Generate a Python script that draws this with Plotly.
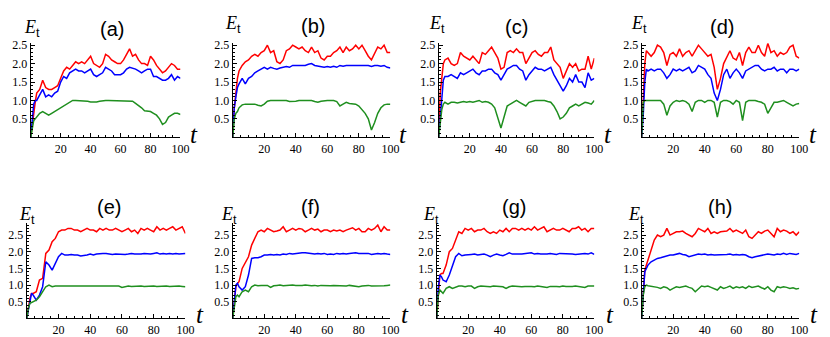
import plotly.graph_objects as go

# browser window size; the page body adds an 8 px margin, so the figure is
# made 8 px smaller and every pixel position below is shifted by that margin
W, H = 830, 337
OFF = 8
FW, FH = W - OFF, H - OFF

# time grid (fine at start, then every 2 steps)
T = [0, 1, 2, 3, 4] + list(range(6, 101, 2))

PANELS = ["a", "b", "c", "d", "e", "f", "g", "h"]

red_a = [0, 0.35, 0.6, 0.95, 1.2,
         1.3, 1.55, 1.35, 1.3, 1.3, 1.35, 1.4, 1.6, 1.8, 1.9,
         1.85, 1.95, 2.05, 2.0, 2.05, 2.0, 2.1, 2.2, 2.0, 1.95,
         1.9, 2.0, 2.25, 2.2, 2.1, 2.05, 2.0, 2.0, 2.1, 2.25,
         2.4, 2.2, 2.25, 2.1, 2.0, 2.0, 1.95, 2.2, 2.1, 1.95,
         1.85, 1.75, 1.8, 1.9, 2.0, 1.95, 1.85, 1.85]
blue_a = [0, 0.5, 0.9, 1.0, 1.0,
          1.15, 1.3, 1.1, 1.15, 1.1, 1.2, 1.25, 1.5, 1.65, 1.6,
          1.75, 1.8, 1.85, 1.8, 1.8, 1.75, 1.8, 1.85, 1.7, 1.65,
          1.7, 1.75, 1.9, 1.85, 1.8, 1.7, 1.7, 1.7, 1.75, 1.85,
          1.9, 1.88, 1.85, 1.8, 1.75, 1.8, 1.85, 1.85, 1.65, 1.65,
          1.6, 1.55, 1.55, 1.6, 1.7, 1.55, 1.65, 1.6]
green_a = [0, 0.3, 0.45, 0.5, 0.55,
           0.65, 0.7, 0.65, 0.6, 0.65, 0.7, 0.75, 0.82, 0.87, 0.92,
           0.97, 1.0, 1.0, 1.0, 1.0, 1.0, 0.98, 0.96, 0.95, 0.96,
           0.98, 1.0, 1.0, 1.0, 1.0, 1.0, 1.0, 1.0, 1.0, 1.0,
           1.0, 0.98, 0.92, 0.87, 0.8, 0.72, 0.7, 0.7, 0.65, 0.6,
           0.5, 0.35, 0.4, 0.55, 0.6, 0.65, 0.65, 0.62]

red_b = [0, 0.8, 1.2, 1.6, 1.8,
         1.95, 2.05, 2.1, 2.2, 2.25, 2.2, 2.3, 2.35, 2.5, 2.3,
         2.35, 2.05, 2.0, 2.1, 2.35, 2.4, 2.5, 2.45, 2.4, 2.45,
         2.35, 2.3, 2.45, 2.3, 2.35, 2.15, 2.1, 2.2, 2.2, 2.3,
         2.35, 2.45, 2.3, 2.45, 2.35, 2.4, 2.5, 2.4, 2.5, 2.35,
         2.2, 2.1, 2.3, 2.45, 2.4, 2.5, 2.3, 2.3]
blue_b = [0, 0.8, 1.1, 1.35, 1.45,
          1.6, 1.45, 1.6, 1.65, 1.75, 1.8, 1.85, 1.9, 1.85, 1.9,
          1.87, 1.85, 1.88, 1.9, 1.92, 1.9, 1.95, 1.95, 1.95, 1.97,
          1.95, 1.98, 2.0, 1.95, 1.93, 1.9, 1.9, 1.92, 1.9, 1.93,
          1.9, 1.95, 1.93, 1.95, 1.95, 1.97, 1.95, 1.97, 1.95, 1.97,
          1.95, 1.92, 1.95, 1.95, 1.93, 1.95, 1.9, 1.88]
green_b = [0, 0.5, 0.65, 0.7, 0.8,
           0.88, 0.9, 0.9, 0.92, 0.9, 0.87, 0.85, 0.9, 0.98, 1.0,
           1.0, 1.0, 1.0, 1.0, 1.0, 0.97, 0.97, 0.98, 1.0, 1.0,
           1.0, 1.0, 1.0, 0.97, 0.95, 0.98, 1.0, 1.0, 1.0, 1.0,
           0.97, 0.85, 0.9, 0.95, 0.92, 0.9, 0.9, 0.85, 0.75, 0.65,
           0.5, 0.2, 0.4, 0.65, 0.8, 0.88, 0.9, 0.9]

red_c = [0, 1.2, 1.6, 2.0, 2.1,
         2.15, 2.0, 1.95, 2.0, 2.3, 2.2, 2.15, 2.1, 2.2, 2.1,
         2.0, 2.3, 2.25, 2.35, 2.45, 2.3, 2.15, 1.85, 1.9, 2.3,
         2.35, 2.3, 2.4, 2.3, 2.3, 2.0, 2.15, 2.3, 2.35, 2.25,
         2.2, 2.3, 2.3, 2.45, 2.1, 2.0, 1.9, 1.6, 1.8, 2.0,
         1.9, 2.0, 1.8, 1.85, 1.85, 2.2, 1.85, 2.15]
blue_c = [0, 0.5, 1.0, 1.55, 1.65,
          1.65, 1.7, 1.65, 1.6, 1.75, 1.7, 1.75, 1.8, 1.85, 1.75,
          1.7, 1.8, 1.8, 1.85, 1.85, 1.75, 1.7, 1.55, 1.7, 1.85,
          1.9, 1.95, 1.95, 1.85, 1.8, 1.55, 1.7, 1.8, 1.9, 1.85,
          1.85, 1.8, 1.85, 1.9, 1.7, 1.55, 1.4, 1.25, 1.4, 1.6,
          1.5, 1.7, 1.5, 1.5, 1.35, 1.75, 1.55, 1.6]
green_c = [0, 0.4, 0.75, 0.9, 0.95,
           0.9, 0.95, 0.95, 0.93, 0.95, 0.97, 0.95, 0.97, 0.95, 0.97,
           1.0, 0.95, 0.97, 0.95, 0.9, 0.8, 0.55, 0.25, 0.55, 0.85,
           0.9, 0.95, 1.0, 0.95, 0.9, 0.85, 0.95, 0.98, 1.0, 1.0,
           1.0, 1.0, 0.97, 0.95, 0.85, 0.7, 0.5, 0.55, 0.65, 0.8,
           0.85, 0.9, 0.85, 0.9, 0.95, 0.93, 0.9, 1.0]

red_d = [0, 1.2, 2.0, 2.35, 2.3,
         2.2, 2.3, 2.5, 2.45, 2.3, 1.95, 2.25, 2.3, 2.2, 2.4,
         2.2, 2.3, 2.35, 2.2, 2.35, 2.5, 2.4, 2.3, 2.2, 2.25,
         1.9, 1.3, 1.6, 2.0, 2.2, 2.35, 2.15, 2.1, 2.3, 1.95,
         2.3, 2.45, 2.3, 2.3, 2.5, 2.3, 2.2, 2.55, 2.3, 2.35,
         2.2, 2.3, 2.25, 2.3, 2.45, 2.5, 2.2, 2.15]
blue_d = [0, 0.6, 1.5, 1.85, 1.8,
          1.85, 1.8, 1.85, 1.85, 1.75, 1.6, 1.7, 1.85, 1.8, 1.85,
          1.8, 1.85, 1.9, 1.75, 1.8, 1.95, 1.9, 1.85, 1.7, 1.6,
          1.2, 1.0, 1.3, 1.7, 1.85, 1.6, 1.75, 1.85, 1.75, 1.6,
          1.8, 1.85, 1.9, 1.95, 1.95, 1.85, 1.8, 1.85, 1.85, 1.9,
          1.8, 1.85, 1.85, 1.75, 1.85, 1.85, 1.8, 1.85]
green_d = [0, 0.95, 1.0, 1.0, 1.0,
           1.0, 1.0, 1.0, 1.0, 0.9, 0.6, 0.85, 0.95, 1.0, 0.97,
           1.0, 0.97, 0.9, 0.7, 0.95, 1.0, 1.0, 0.95, 1.0, 1.0,
           0.95, 0.55, 0.95, 1.0, 1.0, 0.97, 0.9, 1.0, 0.95, 0.45,
           0.95, 1.0, 1.0, 1.0, 0.97, 0.95, 0.9, 0.65, 0.8, 0.95,
           0.95, 0.97, 1.0, 0.95, 0.9, 0.85, 0.9, 0.92]

red_e = [0, 0.3, 0.6, 0.75, 0.75,
         0.8, 1.15, 1.2, 1.95, 2.05, 2.3, 2.4, 2.6, 2.65, 2.65,
         2.7, 2.7, 2.65, 2.65, 2.6, 2.65, 2.7, 2.65, 2.65, 2.6,
         2.7, 2.65, 2.7, 2.65, 2.65, 2.7, 2.65, 2.6, 2.65, 2.7,
         2.6, 2.65, 2.55, 2.7, 2.65, 2.7, 2.65, 2.6, 2.75, 2.65,
         2.7, 2.65, 2.7, 2.75, 2.65, 2.7, 2.75, 2.55]
blue_e = [0, 0.25, 0.55, 0.75, 0.7,
          0.55, 0.7, 0.95, 1.7, 1.6, 1.45, 1.65, 1.85, 1.95, 1.9,
          1.9, 1.92, 1.9, 1.9, 1.87, 1.88, 1.9, 1.93, 1.9, 1.93,
          1.95, 1.95, 1.95, 1.93, 1.92, 1.93, 1.92, 1.93, 1.92, 1.93,
          1.95, 1.93, 1.92, 1.93, 1.95, 1.93, 1.93, 1.95, 1.97, 1.93,
          1.95, 1.93, 1.95, 1.93, 1.95, 1.93, 1.95, 1.95]
green_e = [0, 0.3, 0.45, 0.48, 0.5,
           0.55, 0.65, 0.8, 0.95, 1.0, 0.95, 0.97, 0.97, 0.96, 0.97,
           0.97, 0.96, 0.97, 0.97, 0.95, 0.96, 0.97, 0.97, 0.96, 0.97,
           0.96, 0.97, 0.97, 0.96, 0.97, 0.96, 0.97, 0.93, 0.96, 0.97,
           0.96, 0.97, 0.96, 0.97, 0.96, 0.97, 0.96, 0.97, 0.96, 0.97,
           0.96, 0.97, 0.96, 0.97, 0.96, 0.97, 0.96, 0.95]

red_f = [0, 0.5, 0.95, 1.05, 1.1,
         1.5, 1.7, 1.85, 2.2, 2.4, 2.6, 2.65, 2.6, 2.7, 2.65,
         2.6, 2.62, 2.65, 2.75, 2.6, 2.65, 2.7, 2.65, 2.7, 2.68,
         2.6, 2.65, 2.7, 2.65, 2.68, 2.6, 2.65, 2.65, 2.6, 2.65,
         2.62, 2.65, 2.6, 2.65, 2.68, 2.72, 2.65, 2.7, 2.6, 2.6,
         2.7, 2.65, 2.7, 2.8, 2.6, 2.75, 2.65, 2.65]
blue_f = [0, 0.5, 1.0, 1.05, 0.95,
          0.85, 0.95, 1.3, 1.8, 1.82, 1.82, 1.85, 1.9, 1.9, 1.92,
          1.9, 1.92, 1.9, 1.93, 1.92, 1.95, 1.93, 1.95, 1.95, 1.97,
          1.97, 1.95, 1.95, 1.93, 1.95, 1.93, 1.95, 1.92, 1.93, 1.92,
          1.95, 1.93, 1.95, 1.93, 1.95, 1.97, 1.97, 1.95, 1.95, 1.93,
          1.95, 1.92, 1.93, 1.95, 1.93, 1.95, 1.93, 1.92]
green_f = [0, 0.35, 0.65, 0.7, 0.65,
           0.8, 0.85, 0.8, 0.95, 1.0, 0.98, 0.99, 0.98, 0.99, 0.93,
           0.98, 0.99, 1.0, 0.98, 0.99, 0.98, 1.0, 0.99, 0.98, 0.99,
           1.0, 0.98, 0.98, 0.99, 0.97, 0.99, 0.98, 0.99, 0.98, 0.99,
           0.98, 0.99, 0.98, 0.97, 0.99, 0.98, 0.97, 0.95, 0.97, 0.98,
           0.99, 0.97, 0.97, 0.98, 0.96, 0.98, 0.99, 1.0]

red_g = [0, 0.7, 1.3, 1.35, 1.35,
         1.6, 2.0, 2.1, 2.35, 2.6, 2.55, 2.7, 2.65, 2.7, 2.6,
         2.65, 2.65, 2.7, 2.6, 2.55, 2.6, 2.55, 2.65, 2.6, 2.7,
         2.6, 2.7, 2.7, 2.65, 2.7, 2.65, 2.7, 2.65, 2.75, 2.65,
         2.7, 2.75, 2.6, 2.65, 2.7, 2.65, 2.65, 2.7, 2.65, 2.6,
         2.7, 2.7, 2.75, 2.65, 2.7, 2.6, 2.7, 2.7]
blue_g = [0, 0.9, 1.3, 1.25, 1.15,
          1.1, 1.3, 1.6, 1.85, 1.95, 1.88, 1.9, 1.9, 1.92, 1.93,
          1.9, 1.92, 1.93, 1.9, 1.85, 1.9, 1.93, 1.9, 1.88, 1.92,
          1.97, 1.93, 1.92, 1.93, 1.93, 1.95, 1.95, 1.97, 1.93, 1.95,
          1.93, 1.92, 1.93, 1.95, 1.93, 1.92, 1.95, 1.95, 1.93, 1.95,
          1.93, 1.92, 1.93, 1.95, 1.95, 1.93, 1.97, 1.92]
green_g = [0, 0.7, 0.85, 0.8, 0.75,
           0.9, 0.95, 0.9, 0.93, 0.97, 0.97, 0.95, 0.97, 0.97, 0.9,
           0.95, 0.97, 0.96, 0.97, 0.95, 0.97, 0.96, 0.97, 0.95, 0.9,
           0.95, 0.97, 0.96, 0.97, 0.95, 0.96, 0.97, 0.96, 0.95, 0.97,
           0.96, 0.95, 0.93, 0.96, 0.97, 0.96, 0.95, 0.97, 0.96, 0.95,
           0.96, 0.97, 0.96, 0.95, 0.93, 0.97, 0.96, 0.97]

red_h = [0, 0.8, 1.45, 1.6, 1.75,
         2.1, 2.35, 2.5, 2.45, 2.5, 2.7, 2.5, 2.55, 2.6, 2.6,
         2.62, 2.55, 2.5, 2.45, 2.55, 2.7, 2.65, 2.6, 2.7, 2.55,
         2.6, 2.55, 2.6, 2.6, 2.62, 2.7, 2.6, 2.65, 2.6, 2.55,
         2.65, 2.45, 2.4, 2.5, 2.6, 2.55, 2.62, 2.65, 2.55, 2.45,
         2.7, 2.6, 2.65, 2.62, 2.55, 2.6, 2.5, 2.6]
blue_h = [0, 0.7, 1.4, 1.5, 1.6,
          1.7, 1.75, 1.8, 1.82, 1.85, 1.88, 1.9, 1.9, 1.93, 1.95,
          1.92, 1.9, 1.85, 1.87, 1.9, 1.93, 1.92, 1.93, 1.9, 1.92,
          1.9, 1.9, 1.92, 1.9, 1.92, 1.93, 1.9, 1.92, 1.9, 1.92,
          1.9, 1.85, 1.82, 1.85, 1.87, 1.88, 1.92, 1.93, 1.92, 1.9,
          1.93, 1.92, 1.95, 1.92, 1.95, 1.93, 1.92, 1.95]
green_h = [0, 0.7, 0.95, 1.0, 0.98,
           0.97, 0.95, 0.93, 0.9, 0.95, 0.92, 0.85, 0.9, 0.95, 0.93,
           0.95, 0.97, 0.93, 0.9, 0.8, 0.9, 0.97, 0.95, 0.97, 0.93,
           0.9, 0.85, 0.95, 0.9, 0.93, 0.97, 0.9, 0.95, 0.92, 0.95,
           0.9, 0.97, 0.93, 0.95, 0.97, 0.92, 0.88, 0.95, 0.85, 0.8,
           0.95, 0.92, 0.95, 0.93, 0.9, 0.92, 0.88, 0.9]

SERIES = {
    "a": (red_a, blue_a, green_a), "b": (red_b, blue_b, green_b),
    "c": (red_c, blue_c, green_c), "d": (red_d, blue_d, green_d),
    "e": (red_e, blue_e, green_e), "f": (red_f, blue_f, green_f),
    "g": (red_g, blue_g, green_g), "h": (red_h, blue_h, green_h),
}
LINE_COLORS = ["#ff0000", "#0000ff", "#1f8f1f"]

# pixel geometry of each panel: x of t=0, x of t=100, y of 0, y of top, top value
GEOM = {
    "a": (28, 180, 135, 39, 2.55), "b": (233, 393, 135, 39, 2.55),
    "c": (442, 600, 135, 39, 2.55), "d": (648, 808, 135, 39, 2.55),
    "e": (24, 185, 320, 223, 2.85), "f": (233, 393, 320, 223, 2.85),
    "g": (440, 600, 320, 223, 2.85), "h": (648, 808, 320, 223, 2.85),
}
# label centres (px): panel tag, E_t, t
TAG_POS = {"a": (110, 24), "b": (314, 21), "c": (521, 22), "d": (730, 22),
           "e": (107, 206), "f": (312, 206), "g": (518, 206), "h": (727, 206)}
ET_POS = {"a": (29, 24), "b": (233, 20), "c": (440, 20), "d": (645, 20),
          "e": (24, 215), "f": (229, 215), "g": (434, 215), "h": (642, 215)}
T_POS = {"a": (194, 132), "b": (406, 132), "c": (614, 132), "d": (822, 132),
         "e": (200, 316), "f": (408, 316), "g": (616, 316), "h": (823, 316)}

SERIF = "Liberation Serif, Times New Roman, serif"
SANS = "Liberation Sans, Arial, sans-serif"


def px_x(x):
    return (x - OFF) / FW


def px_y(y):
    return 1 - (y - OFF) / FH


def label(x, y, text, font):
    return dict(x=px_x(x), y=px_y(y), xref="paper", yref="paper", text=text,
                showarrow=False, xanchor="center", yanchor="middle", font=font)


fig = go.Figure()
annotations = []
for i, p in enumerate(PANELS, start=1):
    sfx = "" if i == 1 else str(i)
    for vals, col in zip(SERIES[p], LINE_COLORS):
        fig.add_trace(go.Scatter(
            x=T, y=vals, mode="lines", xaxis=f"x{sfx}", yaxis=f"y{sfx}",
            line=dict(color=col, width=1.5), showlegend=False, hoverinfo="skip",
        ))
    x0, x1, y0, y1, ytop = GEOM[p]
    fig.layout[f"xaxis{sfx}"] = dict(
        domain=[px_x(x0), px_x(x1)], range=[0, 100], anchor=f"y{sfx}",
        showgrid=False, zeroline=False, showline=True, linecolor="black", linewidth=1,
        tickvals=[20, 40, 60, 80, 100], ticks="inside", ticklen=4, tickcolor="black",
        minor=dict(ticks="inside", ticklen=2, dtick=5, tick0=0, tickcolor="black"),
        tickfont=dict(family=SERIF, size=12, color="black"), fixedrange=True,
    )
    yticks = [0.5, 1.0, 1.5, 2.0, 2.5]
    fig.layout[f"yaxis{sfx}"] = dict(
        domain=[px_y(y0), px_y(y1)], range=[0, ytop], anchor=f"x{sfx}",
        showgrid=False, zeroline=False, showline=True, linecolor="black", linewidth=1,
        tickvals=yticks, ticktext=[f"{v:.1f}" for v in yticks],
        ticks="inside", ticklen=4, tickcolor="black",
        minor=dict(ticks="inside", ticklen=2, dtick=0.1, tick0=0, tickcolor="black"),
        tickfont=dict(family=SERIF, size=12, color="black"), fixedrange=True,
    )
    annotations.append(label(*TAG_POS[p], f"({p})",
                             dict(family=SANS, size=20, color="black")))
    annotations.append(label(*ET_POS[p],
                             "<i>E</i><sub><span style='font-family:Liberation Sans'>t</span></sub>",
                             dict(family=SERIF, size=18, color="black")))
    annotations.append(label(*T_POS[p], "<i>t</i>",
                             dict(family=SERIF, size=25, color="black")))

fig.update_layout(
    width=FW, height=FH, margin=dict(l=0, r=0, t=0, b=0),
    paper_bgcolor="white", plot_bgcolor="white",
    annotations=annotations, showlegend=False,
)

fig.write_html("out.html")
